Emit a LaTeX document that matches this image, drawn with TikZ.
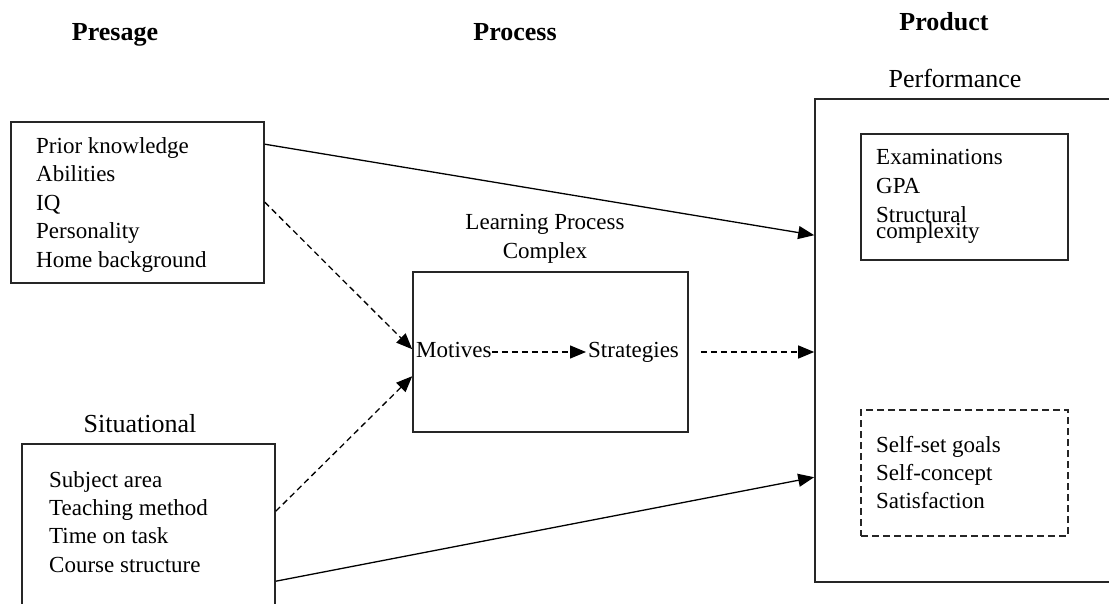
\documentclass[tikz,border=0pt]{standalone}
\usepackage{fontspec}
\setmainfont{Liberation Serif}
\usetikzlibrary{arrows.meta}
\begin{document}
\begin{tikzpicture}[x=1pt,y=-1pt,
  box/.style={draw=black!85,line width=1.6pt,inner sep=0pt},
  txt/.style={inner sep=0pt,anchor=base west,align=left,font=\fontsize{23}{28.5}\selectfont},
  head/.style={inner sep=0pt,anchor=base,font=\fontsize{26}{30}\selectfont\bfseries},
  lab/.style={inner sep=0pt,anchor=base,font=\fontsize{26}{30}\selectfont},
  link/.style={line width=1.3pt,-{Triangle[length=16pt,width=13pt]}},
  dlink/.style={link,dash pattern=on 6pt off 4pt}]
\useasboundingbox (0,0) rectangle (1109,603);
\clip (0,0) rectangle (1109,603);

% column headings
\node[head] (hpre) at (115,40) {Presage};
\node[head] (hpro) at (515,40) {Process};
\node[head] (hprd) at (944,30) {Product};

% presage factors (multi-line nodes are placed by the baseline of their last line)
\node[box,minimum width=253pt,minimum height=161pt] (pres) at (137.5,202.5) {};
\node[txt] (prestxt) at (36,267) {Prior knowledge\\Abilities\\IQ\\Personality\\Home background};

% situational factors
\node[lab] (sitlab) at (140,432) {Situational};
\node[box,minimum width=253pt,minimum height=196pt] (sit) at (148.5,542) {};
\node[txt,font=\fontsize{23}{28.3}\selectfont] (sittxt) at (49,572) {Subject area\\Teaching method\\Time on task\\Course structure};

% learning process complex
\node[txt,anchor=base,align=center] (learnlab) at (545,258) {Learning Process\\Complex};
\node[box,minimum width=275pt,minimum height=160pt] (learn) at (550.5,352) {};
\node[txt] (mot) at (416,357) {Motives};
\node[txt] (str) at (588,357) {Strategies};

% product
\node[lab] (perflab) at (955,87) {Performance};
\node[box,minimum width=325pt,minimum height=483pt] (perf) at (977.5,340.5) {};
\node[box,minimum width=207pt,minimum height=126pt] (exam) at (964.5,197) {};
\node[txt,font=\fontsize{23}{29}\selectfont] (examtxt) at (876,238) {Examinations\\GPA\\Structural\\[-13pt]complexity};
\node[box,line width=2pt,dash pattern=on 7pt off 4pt,minimum width=207pt,minimum height=126pt] (self) at (964.5,473) {};
\node[txt,font=\fontsize{23}{28}\selectfont] (selftxt) at (876,508) {Self-set goals\\Self-concept\\Satisfaction};

% connectors
\draw[link] ([yshift=-23pt]pres.north east) -- ([yshift=-137pt]perf.north west);
\draw[dlink] ([yshift=-81pt]pres.north east) -- ([yshift=-78pt]learn.north west);
\draw[dlink] ([yshift=-68pt]sit.north east) -- ([yshift=-105pt]learn.north west);
\draw[link] ([yshift=-138pt]sit.north east) -- ([yshift=-379pt]perf.north west);
\draw[dlink,shorten >=2pt] ([yshift=5pt]mot.base east) -- ([yshift=5pt]str.base west);
\coordinate (out) at ([xshift=12pt]learn.east);
\draw[dlink] (out) -- (out -| perf.west);
\end{tikzpicture}
\end{document}
